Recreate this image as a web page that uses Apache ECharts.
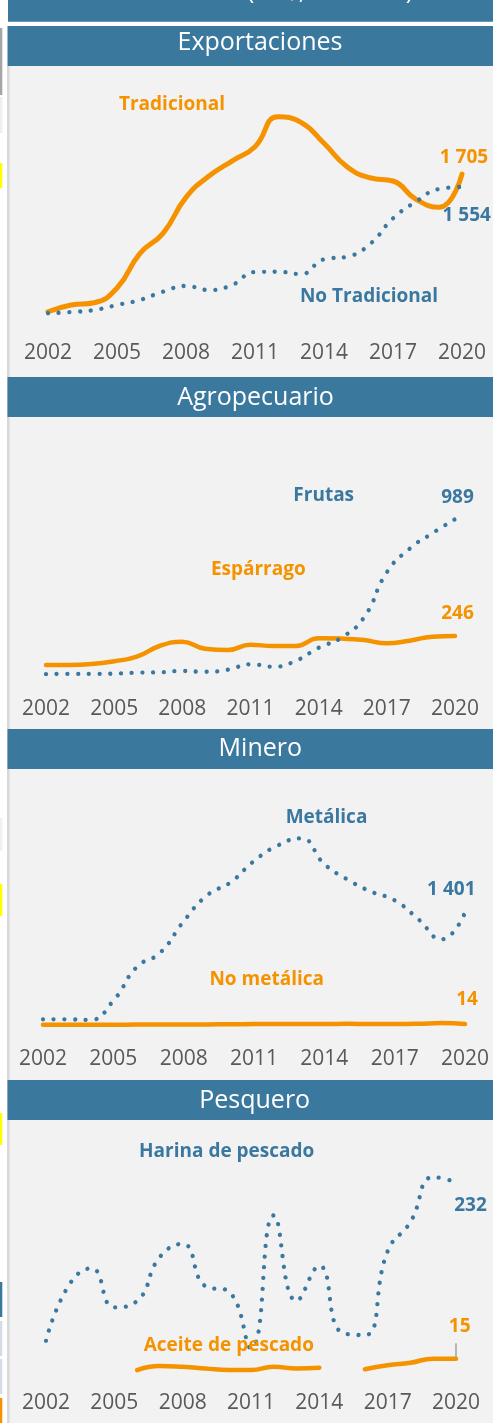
<!DOCTYPE html>
<html><head><meta charset="utf-8">
<script src="https://cdn.jsdelivr.net/npm/echarts@6/dist/echarts.min.js"></script>
<style>html,body{margin:0;padding:0;background:#fff}#c{width:493px;height:1423px}</style>
</head><body><div id="c"></div>
<script>
// ---------- DATA ----------
const years = ['2002','2003','2004','2005','2006','2007','2008','2009','2010','2011','2012','2013','2014','2015','2016','2017','2018','2019','2020'];
const tickLabels = ['2002','2005','2008','2011','2014','2017','2020'];
const panelTitles = ['Exportaciones','Agropecuario','Minero','Pesquero'];
const topTitle = '(US$, millones)';

const tradicional   = [91,170,197,369,776,1010,1432,1682,1858,2026,2377,2312,2066,1791,1662,1624,1409,1315,1705];
const noTradicional = [73,88,111,170,229,326,393,346,404,557,560,533,706,736,885,1186,1381,1530,1554];

const frutas    = [3,4,4,6,12,15,23,18,31,66,50,88,171,235,365,651,801,899,989];
const esparrago = [61,61,67,85,114,182,209,165,157,190,182,182,231,229,220,199,216,241,246];

const metalica   = [72,72,64,304,724,902,1293,1617,1779,2045,2236,2328,2007,1812,1662,1555,1322,1069,1401];
const noMetalica = [3,3,4,5,6,7,8,9,10,13,14,13,14,16,14,14,17,25,14];

const harina = [37,105,126,78,86,140,156,104,98,28,191,86,129,47,44,147,183,238,232];
const aceite = [null,null,null,null,1,6,5,3,1,1,5,3,4,null,2,7,10,15,15];

const seriesNames = [
  ['Tradicional','No Tradicional'],
  ['Espárrago','Frutas'],
  ['No metálica','Metálica'],
  ['Aceite de pescado','Harina de pescado']
];
const panelData = [
  [tradicional, noTradicional],
  [esparrago, frutas],
  [noMetalica, metalica],
  [aceite, harina]
];

// ---------- STYLE / LAYOUT ----------
const BLUE = '#3A78A0', ORANGE = '#F59200', HEAD = '#3B789E', GRAY = '#595959';
const FONT = '"Open Sans", "Noto Sans", sans-serif';
const layout = [
  {head:26,  headH:40, titleX:260,   titleY:41.5, top:80.7,   height:238.8, max:2800, left:48, right:31, margin:23.5, ow:5},
  {head:377, headH:40, titleX:255.5, titleY:396.5,top:423.2,  height:251.4, max:1600, left:46, right:38, margin:23.5, ow:4.5},
  {head:729, headH:40, titleX:260.3, titleY:748,  top:784.35, height:240.75,max:3000, left:43, right:28, margin:23,   ow:4.5},
  {head:1080,headH:40, titleX:254.7, titleY:1099.5,top:1134.8,height:236.1, max:290,  left:46, right:37, margin:22,   ow:4.5}
];
// label positions (name orange, name blue, value orange, value blue)
const labelPos = [
  {o:[172,104],   b:[369,296],    vo:[464,156.7],  vb:[466.7,215]},
  {o:[258.3,569], b:[323.7,495],  vo:[457.5,613],  vb:[457.5,497]},
  {o:[266.7,978.7], b:[326.5,817], vo:[467,998.3], vb:[451.3,888.3]},
  {o:[228.8,1345], b:[226.7,1151], vo:[459.7,1326], vb:[470.5,1204.7]}
];

const fmt = v => String(v).replace(/\B(?=(\d{3})+(?!\d))/g, ' ');
const lastVal = arr => { for (let i = arr.length - 1; i >= 0; i--) if (arr[i] != null) return arr[i]; };

function txt(x, y, s, color, font, z) {
  return {type:'text', x:x, y:y + 1, z: z || 100, silent:true,
    style:{text:s, fill:color, font:font, textAlign:'center', align:'center',
           textVerticalAlign:'middle', verticalAlign:'middle'}};
}

const graphic = [];
// page backgrounds
graphic.push({type:'rect', z:-20, silent:true, shape:{x:9.5, y:26, width:484, height:1397}, style:{fill:'#F2F2F2'}});
graphic.push({type:'rect', z:-19, silent:true, shape:{x:7, y:66, width:2.7, height:1357}, style:{fill:'#D9D9D9'}});
// top band (title text mostly cut off by the top edge)
graphic.push({type:'rect', z:-18, silent:true, shape:{x:8, y:0, width:485, height:21.7}, style:{fill:HEAD}});
graphic.push({type:'text', x:330, y:4.5, z:-17, silent:true, style:{text:topTitle, fill:'#FFFFFF', font:'24px ' + FONT, textAlign:'center', align:'center', textVerticalAlign:'bottom', verticalAlign:'bottom'}});
// left-edge fragments
[[28,67,'#A6A6A6'],[97,36,'#EFEFEF'],[163,25,'#FFFF00'],[818,33,'#F0F0F0'],[884,32,'#FFFF00'],
 [1113,32,'#FFFF00'],[1282,35,HEAD],[1321,35,'#D6DCE4'],[1359,35,'#D6DCE4'],[1398,25,ORANGE]].forEach(r => {
  graphic.push({type:'rect', z:-18, silent:true, shape:{x:0, y:r[0], width:2.3, height:r[1]}, style:{fill:r[2]}});
});

const grids = [], xAxes = [], yAxes = [], series = [];
layout.forEach((L, i) => {
  graphic.push({type:'rect', z:-15, silent:true, shape:{x:7.5, y:L.head, width:486, height:L.headH}, style:{fill:HEAD}});
  graphic.push(txt(L.titleX, L.titleY, panelTitles[i], '#FFFFFF', '25px ' + FONT, 50));

  grids.push({left:L.left, right:L.right, top:L.top, height:L.height, containLabel:false});
  xAxes.push({type:'category', gridIndex:i, data:years, boundaryGap:false,
    axisLine:{show:false}, axisTick:{show:false}, splitLine:{show:false},
    axisLabel:{interval:(idx, val) => tickLabels.includes(val), color:GRAY, fontSize:21, fontFamily:FONT, margin:L.margin}});
  yAxes.push({type:'value', gridIndex:i, min:0, max:L.max, show:false});

  const [oData, bData] = panelData[i];
  const oSeries = {type:'line', name:seriesNames[i][0], xAxisIndex:i, yAxisIndex:i, data:oData, smooth:0.5,
    symbol:'none', z:3, lineStyle:{color:ORANGE, width:L.ow, cap:'round', join:'round'}};
  if (i === 3) {
    oSeries.markLine = {silent:true, animation:false, symbol:['none','none'], label:{show:false},
      lineStyle:{color:'#A6A6A6', width:1.6, type:'solid'},
      data:[[{coord:['2020', 17]}, {coord:['2020', 34]}]]};
  }
  series.push(oSeries);
  series.push({type:'line', name:seriesNames[i][1], xAxisIndex:i, yAxisIndex:i, data:bData, smooth:0.5,
    symbol:'none', z:4, lineStyle:{color:BLUE, width:4.3, type:[0.01, 10.7], cap:'round', join:'round'}});

  const P = labelPos[i];
  const bold = 'bold 19px ' + FONT;
  graphic.push(txt(P.o[0], P.o[1], seriesNames[i][0], ORANGE, bold));
  graphic.push(txt(P.b[0], P.b[1], seriesNames[i][1], BLUE, bold));
  graphic.push(txt(P.vo[0], P.vo[1], fmt(lastVal(oData)), ORANGE, bold));
  graphic.push(txt(P.vb[0], P.vb[1], fmt(lastVal(bData)), BLUE, bold));
});

const chart = echarts.init(document.getElementById('c'), null, {renderer:'canvas'});
chart.setOption({
  animation:false,
  backgroundColor:'#FFFFFF',
  grid:grids, xAxis:xAxes, yAxis:yAxes, series:series, graphic:graphic
});
</script></body></html>
